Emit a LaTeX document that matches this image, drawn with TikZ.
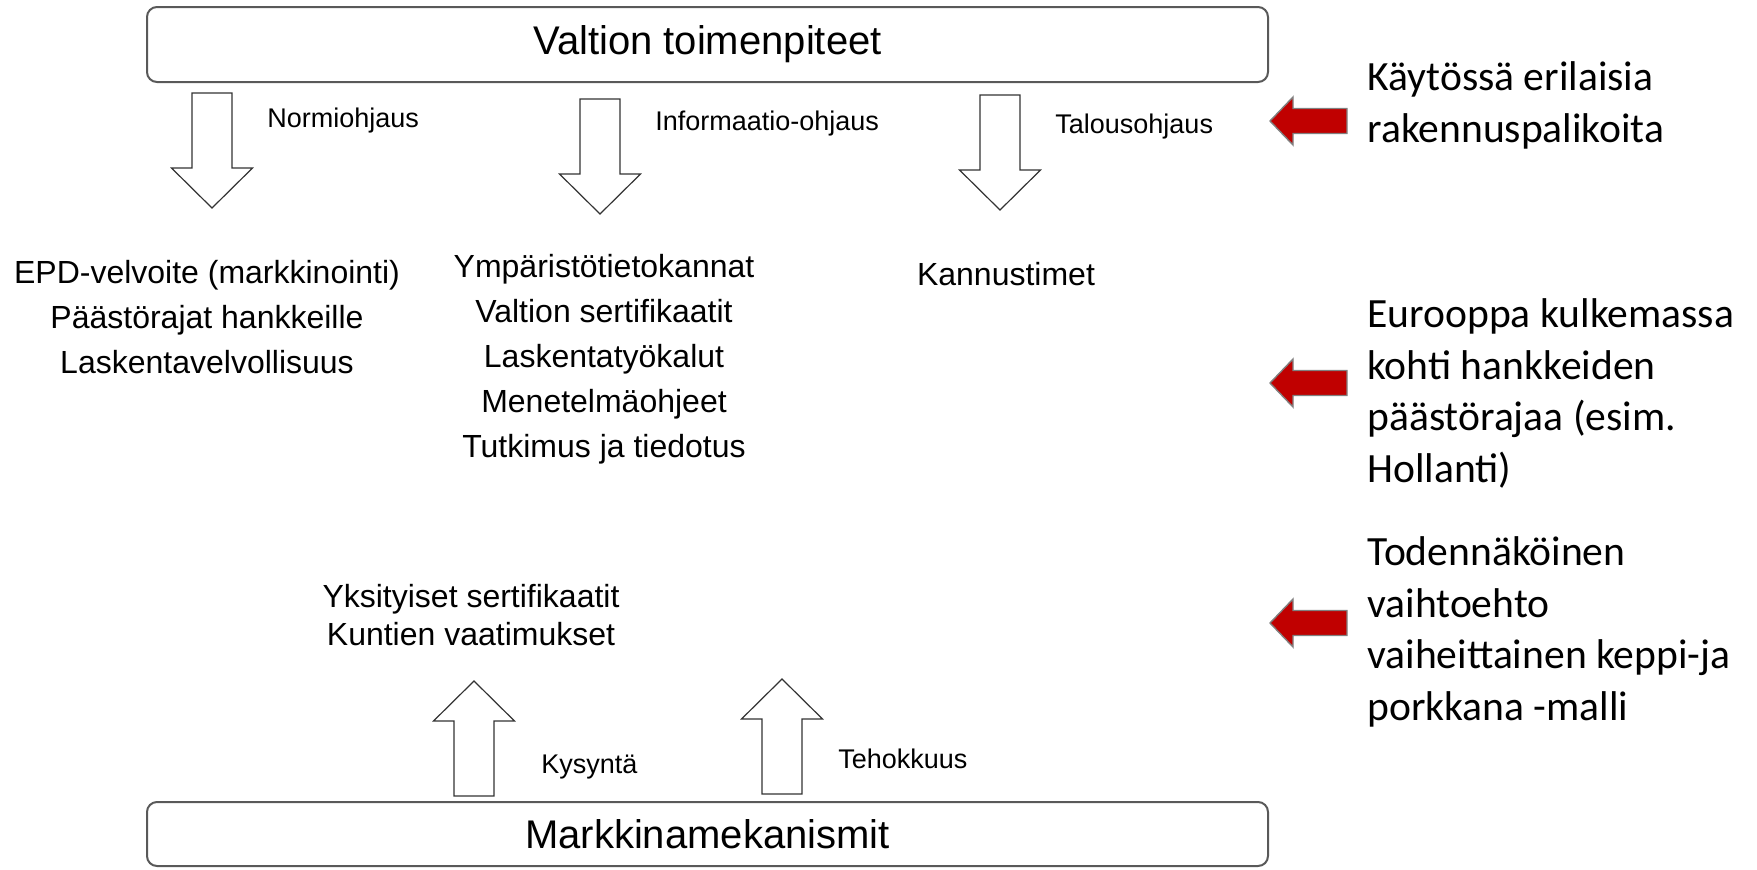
\documentclass[tikz,border=0pt]{standalone}
\usepackage{fontspec}
\setmainfont{Liberation Sans}
\newfontfamily\notefont{Carlito}
\definecolor{arrowred}{HTML}{C00000}

\begin{document}
\begin{tikzpicture}[x=0.5pt,y=-0.5pt,
  mainbox/.style={draw=black!65,line width=1pt,rounded corners=5pt,minimum width=560.5pt,inner sep=0pt,font=\fontsize{20}{24}\selectfont},
  steer/.style={anchor=base west,inner sep=0pt,font=\fontsize{13.5}{16}\selectfont},
  itemlist/.style={anchor=base,align=center,inner sep=0pt,font=\fontsize{16}{22.4}\selectfont},
  note/.style={anchor=base west,align=left,inner sep=0pt,font=\notefont\fontsize{20.8}{25.7}\selectfont},
  blockarrow/.pic={\draw[black!80,line width=0.6pt,fill=white] (-20,0) -- (-20,75) -- (-40.5,75) -- (0,115) -- (40.5,75) -- (20,75) -- (20,0) -- cycle;},
  redarrow/.pic={\draw[gray,line width=0.7pt,fill=arrowred] (0,0) -- (23,-24) -- (23,-12.5) -- (77,-12.5) -- (77,12.5) -- (23,12.5) -- (23,24) -- cycle;}]

\useasboundingbox (0,0) rectangle (1757,869);

% Top and bottom boxes
\node[mainbox,minimum height=37.5pt] (valtio) at (707.5,44.5) {Valtion toimenpiteet};
\node[mainbox,minimum height=32pt] (markkina) at (707.5,834) {Markkinamekanismit};

% Steering arrows from the state
\pic at (212,93) {blockarrow};
\pic at (600,99) {blockarrow};
\pic at (1000,95) {blockarrow};
\node[steer] (normi) at (267,127) {Normiohjaus};
\node[steer] (info) at (655,130) {Informaatio-ohjaus};
\node[steer] (talous) at (1055,133) {Talousohjaus};

% Instruments under each arrow (placed by the last line)
\node[itemlist] (normilist) at (207,373) {EPD-velvoite (markkinointi)\\Päästörajat hankkeille\\Laskentavelvollisuus};
\node[itemlist] (infolist) at (604,457) {Ympäristötietokannat\\Valtion sertifikaatit\\Laskentatyökalut\\Menetelmäohjeet\\Tutkimus ja tiedotus};
\node[itemlist] (talouslist) at (1006,285) {Kannustimet};

% Market side
\node[itemlist,font=\fontsize{16}{19}\selectfont] (yksit) at (471,645) {Yksityiset sertifikaatit\\Kuntien vaatimukset};
\pic[rotate=180] at (474,796) {blockarrow};
\pic[rotate=180] at (782,794) {blockarrow};
\node[steer] (kysynta) at (541,773) {Kysyntä};
\node[steer] (tehokkuus) at (838,768) {Tehokkuus};

% Comments on the right
\pic at (1270,121) {redarrow};
\pic at (1270,383) {redarrow};
\pic at (1270,623) {redarrow};
\node[note] (note1) at (1367,142) {Käytössä erilaisia\\rakennuspalikoita};
\node[note] (note2) at (1367,482) {Eurooppa kulkemassa\\kohti hankkeiden\\päästörajaa (esim.\\Hollanti)};
\node[note] (note3) at (1367,720) {Todennäköinen\\vaihtoehto\\vaiheittainen keppi-ja\\porkkana -malli};

\end{tikzpicture}
\end{document}
